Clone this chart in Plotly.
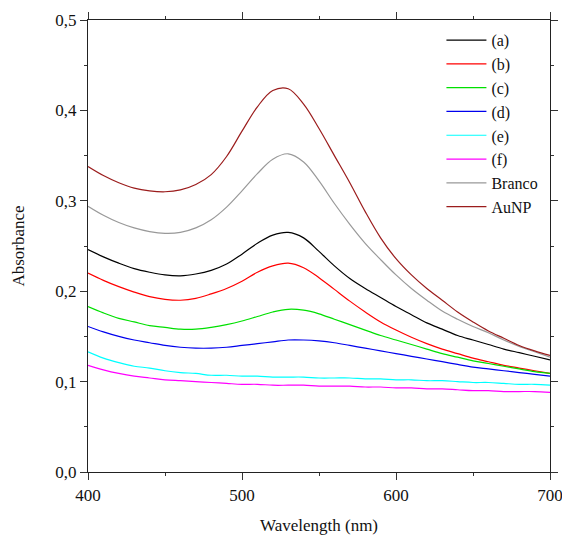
import plotly.graph_objects as go

wavelength = list(range(400, 701, 10))

a_vals = [0.246, 0.238, 0.231, 0.225, 0.221, 0.218, 0.217, 0.219, 0.223, 0.230, 0.241,
          0.253, 0.262, 0.265, 0.259, 0.244, 0.228, 0.214, 0.203, 0.193, 0.183, 0.174,
          0.165, 0.158, 0.151, 0.146, 0.141, 0.136, 0.132, 0.128, 0.124]
b_vals = [0.220, 0.212, 0.205, 0.199, 0.194, 0.191, 0.190, 0.192, 0.197, 0.203, 0.211,
          0.221, 0.228, 0.231, 0.226, 0.215, 0.202, 0.189, 0.177, 0.166, 0.157, 0.149,
          0.142, 0.136, 0.131, 0.126, 0.122, 0.118, 0.115, 0.112, 0.109]
c_vals = [0.183, 0.176, 0.170, 0.166, 0.162, 0.160, 0.158, 0.158, 0.160, 0.163, 0.167,
          0.172, 0.177, 0.180, 0.179, 0.175, 0.169, 0.163, 0.157, 0.151, 0.146, 0.141,
          0.136, 0.131, 0.127, 0.123, 0.120, 0.117, 0.114, 0.111, 0.109]
d_vals = [0.161, 0.155, 0.150, 0.146, 0.143, 0.140, 0.138, 0.137, 0.137, 0.138, 0.140,
          0.142, 0.144, 0.146, 0.146, 0.145, 0.143, 0.140, 0.137, 0.134, 0.131, 0.128,
          0.125, 0.122, 0.119, 0.116, 0.114, 0.112, 0.110, 0.108, 0.106]
e_vals = [0.133, 0.126, 0.121, 0.117, 0.115, 0.112, 0.110, 0.109, 0.107, 0.107, 0.106,
          0.106, 0.105, 0.105, 0.105, 0.104, 0.104, 0.104, 0.103, 0.103, 0.102, 0.102,
          0.101, 0.101, 0.100, 0.099, 0.099, 0.098, 0.097, 0.097, 0.096]
f_vals = [0.118, 0.113, 0.109, 0.106, 0.104, 0.102, 0.101, 0.100, 0.099, 0.098, 0.097,
          0.097, 0.096, 0.096, 0.096, 0.095, 0.095, 0.095, 0.094, 0.094, 0.093, 0.093,
          0.092, 0.092, 0.091, 0.090, 0.090, 0.089, 0.089, 0.089, 0.088]
branco_vals = [0.294, 0.284, 0.276, 0.270, 0.266, 0.264, 0.265, 0.270, 0.279, 0.293, 0.311,
               0.330, 0.346, 0.352, 0.343, 0.322, 0.297, 0.274, 0.253, 0.235, 0.218, 0.203,
               0.190, 0.178, 0.169, 0.161, 0.154, 0.146, 0.139, 0.133, 0.127]
aunp_vals = [0.338, 0.328, 0.320, 0.314, 0.311, 0.310, 0.312, 0.318, 0.329, 0.349, 0.377,
             0.404, 0.422, 0.424, 0.407, 0.380, 0.350, 0.320, 0.288, 0.259, 0.236, 0.218,
             0.203, 0.190, 0.177, 0.166, 0.156, 0.148, 0.140, 0.134, 0.129]

series_names = ["(a)", "(b)", "(c)", "(d)", "(e)", "(f)", "Branco", "AuNP"]
series_values = [a_vals, b_vals, c_vals, d_vals, e_vals, f_vals, branco_vals, aunp_vals]
series_colors = ["#000000", "#ff0000", "#00e000", "#0000ee", "#00ffff", "#ff00ff", "#999999", "#9b1c1c"]

fig = go.Figure()
for name, vals, col in zip(series_names, series_values, series_colors):
    fig.add_trace(go.Scatter(x=wavelength, y=vals, mode="lines", name=name,
                             line=dict(color=col, width=1.2, shape="spline", smoothing=1.0)))

font_family = "Liberation Serif, Times New Roman, serif"
fig.update_layout(
    width=562, height=535,
    margin=dict(l=88, r=12, t=20, b=63, autoexpand=False),
    paper_bgcolor="white", plot_bgcolor="white",
    separators=", ",
    font=dict(family=font_family, size=17, color="#111111"),
    showlegend=True,
    legend=dict(x=0.765, y=0.993, xanchor="left", yanchor="top",
                bgcolor="rgba(0,0,0,0)", font=dict(size=16, family=font_family),
                tracegroupgap=0, itemwidth=40),
)
fig.update_xaxes(
    range=[400, 700], dtick=100, tick0=400, automargin=False,
    ticklabeloverflow="allow",
    ticks="outside", ticklen=7, tickwidth=1, tickcolor="#333",
    minor=dict(dtick=50, ticks="outside", ticklen=3, tickcolor="#333"),
    showline=True, linecolor="#222", linewidth=1.2, mirror="allticks",
    showgrid=False, zeroline=False,
    tickfont=dict(size=17, family=font_family),
    title=dict(text="Wavelength (nm)", font=dict(size=17, family=font_family), standoff=17),
)
fig.update_yaxes(
    range=[0, 0.5], dtick=0.1, tick0=0, tickformat=".1f", automargin=False,
    ticklabeloverflow="allow",
    ticks="outside", ticklen=7, tickwidth=1, tickcolor="#333",
    minor=dict(dtick=0.05, ticks="outside", ticklen=3, tickcolor="#333"),
    showline=True, linecolor="#222", linewidth=1.2, mirror="allticks",
    showgrid=False, zeroline=False,
    tickfont=dict(size=17, family=font_family),
    title=dict(text="Absorbance", font=dict(size=17, family=font_family), standoff=26),
)

fig.write_html("out.html", config={"displayModeBar": False},
               post_script="document.body.style.margin='0px';")
